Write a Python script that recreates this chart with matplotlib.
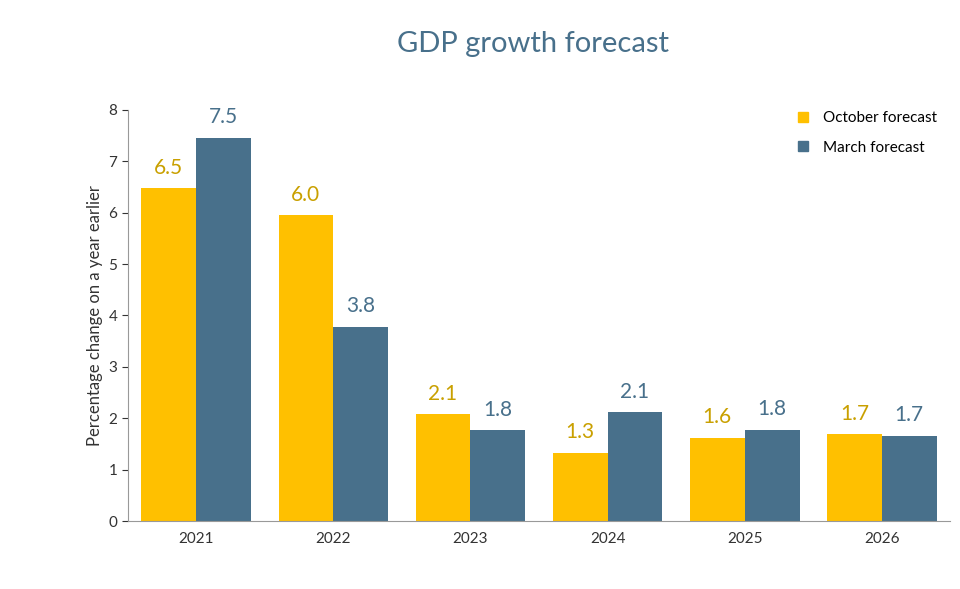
import matplotlib.pyplot as plt
import numpy as np
from matplotlib.lines import Line2D

plt.rcParams['font.family'] = ['Lato', 'DejaVu Sans']

years = ['2021', '2022', '2023', '2024', '2025', '2026']
october = [6.5, 6.0, 2.1, 1.3, 1.6, 1.7]
march = [7.5, 3.8, 1.8, 2.1, 1.8, 1.7]
oct_true = [6.48, 5.95, 2.08, 1.33, 1.62, 1.69]
mar_true = [7.46, 3.78, 1.77, 2.12, 1.78, 1.66]

gold = '#FFC000'
blue = '#48708B'
gold_txt = '#C9A000'

fig = plt.figure(figsize=(9.6, 5.89), dpi=100)
ax = fig.add_axes([0.133, 0.1154, 0.857, 0.698])
x = np.arange(len(years))
w = 0.4
ax.bar(x - w / 2, oct_true, w, color=gold)
ax.bar(x + w / 2, mar_true, w, color=blue)
for i in range(len(years)):
    ax.text(x[i] - w / 2, oct_true[i] + 0.2, f'{october[i]:.1f}', ha='center', va='bottom',
            fontsize=15, color=gold_txt)
    ax.text(x[i] + w / 2, mar_true[i] + 0.2, f'{march[i]:.1f}', ha='center', va='bottom',
            fontsize=15, color=blue)

ax.set_xlim(-0.5, len(years) - 0.5)
ax.set_ylim(0, 8)
ax.set_xticks(x)
ax.set_xticklabels(years)
ax.set_yticks(range(9))
ax.tick_params(labelsize=11, colors='#333333', length=4)
ax.tick_params(axis='x', length=0, pad=8)
for s in ['top', 'right']:
    ax.spines[s].set_visible(False)
for s in ['left', 'bottom']:
    ax.spines[s].set_color('#999999')
ax.set_ylabel('Percentage change on a year earlier', fontsize=12, color='#333333')

handles = [Line2D([], [], marker='s', ls='', color=gold, markersize=7),
           Line2D([], [], marker='s', ls='', color=blue, markersize=7)]
ax.legend(handles, ['October forecast', 'March forecast'], loc='upper right',
          frameon=False, fontsize=11, handletextpad=0.3, labelspacing=1.0,
          bbox_to_anchor=(1.0, 1.03))

fig.text(0.555, 0.925, 'GDP growth forecast', ha='center', va='center',
         fontsize=21, color='#48708B')

fig.savefig('out.png', dpi=100)
